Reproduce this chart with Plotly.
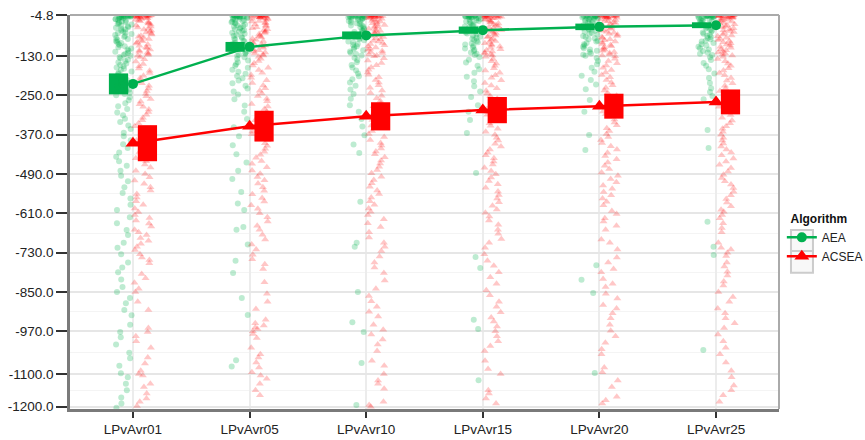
import plotly.graph_objects as go

categories = ["LPvAvr01", "LPvAvr05", "LPvAvr10", "LPvAvr15", "LPvAvr20", "LPvAvr25"]

ytick_vals = [-4.8, -130, -250, -370, -490, -610, -730, -850, -970, -1100, -1200]
ytick_text = ["-4.8", "-130.0", "-250.0", "-370.0", "-490.0", "-610.0", "-730.0",
              "-850.0", "-970.0", "-1100.0", "-1200.0"]

# summary (mean and half width of the interval box)
aea_mean = [-215, -102, -67, -51, -41, -36]
aea_half = [32, 15, 12, 11, 10, 9]
acsea_mean = [-396, -344, -314, -295, -283, -270]
acsea_half = [55, 47, 43, 40, 38, 38]

# individual runs
aea_01 = [
    -5, -5, -5, -6, -6, -6, -7, -7, -7, -8, -8, -9, -9, -10, -10, -11, -12, -13,
    -14, -15, -17, -18, -20, -22, -24, -26, -28, -30, -32, -34, -37, -39, -42, -44, -47, -49, -52, -55,
    -58, -60, -63, -66, -69, -72, -75, -78, -81, -84, -87, -90, -93, -97, -100, -103, -107, -110, -114,
    -117, -121, -124, -127, -129,
    -133, -137, -141, -145, -149, -153, -157, -161, -165, -169, -173, -177, -181, -185, -190, -194, -198,
    -203, -207, -212, -217, -222, -227, -232, -237, -242, -246, -250,
    -256, -265, -274, -283, -292, -302, -311, -321, -331, -342, -353, -364, -375, -387, -399, -411, -424,
    -437, -451, -465, -480, -495,
    -512, -530, -548, -565, -584, -600, -622, -640, -661, -676, -700, -715, -735, -760, -775, -790,
    -812, -835, -850, -868, -884, -905, -921, -950, -972, -988, -1010, -1035, -1052, -1075, -1098,
    -1110, -1130, -1150, -1172, -1190, -1203]
aea_05 = [
    -5, -5, -5, -6, -6, -6, -7, -7, -8, -8, -8, -9, -9, -10, -11, -11, -12, -13,
    -14, -16, -17, -19, -21, -23, -25, -27, -29, -31, -34, -36, -38, -41, -43, -46, -48, -51, -54, -56,
    -59, -62, -65, -68, -71, -74, -77, -80, -83, -86, -90, -93, -96, -100, -103, -107, -110, -113, -117,
    -120, -123, -126, -129,
    -134, -139, -144, -149, -155, -160, -166, -172, -178, -184, -191, -198, -205, -213, -221, -229, -238,
    -247,
    -262, -281, -300, -322, -347, -375, -402, -430, -455, -480, -505, -545,
    -580, -600, -652, -660, -705, -755, -792, -868, -920, -1058, -1077]
aea_10 = [
    -5, -5, -5, -6, -6, -7, -7, -7, -8, -8, -9, -9, -10, -10, -11, -12, -12, -13,
    -14, -16, -18, -19, -21, -23, -25, -28, -30, -32, -35, -37, -40, -42, -45, -48, -51, -54, -57, -60,
    -63, -66, -69, -72, -76, -79, -82, -86, -89, -93, -96, -100, -104, -108, -112, -116, -120, -124, -128,
    -135, -142, -149, -157, -165, -174, -183, -192, -201, -211, -221, -232, -246, -260,
    -280, -300, -322, -345, -372, -400, -426,
    -575, -700, -712, -850, -942, -972, -1067, -1195]
aea_15 = [
    -5, -5, -5, -6, -6, -6, -7, -7, -8, -8, -8, -9, -9, -10, -11, -11, -12, -13,
    -14, -15, -17, -19, -21, -23, -25, -27, -30, -32, -35, -37, -40, -43, -46, -49, -52, -55, -58, -61,
    -64, -67, -71, -74, -77, -81, -84, -88, -92, -95, -99, -103, -107, -111, -115, -119, -123, -127,
    -133, -141, -150, -160, -170, -181, -193, -207, -222, -238, -255,
    -280, -300, -325, -365, -487,
    -743, -777, -935, -963, -1119]
aea_20 = [
    -5, -5, -5, -6, -6, -7, -7, -7, -8, -8, -9, -9, -10, -10, -11, -12, -13, -14,
    -15, -16, -18, -20, -22, -24, -26, -28, -31, -33, -36, -38, -41, -44, -47, -50, -53, -56, -59, -62,
    -65, -69, -72, -76, -79, -83, -86, -90, -94, -98, -102, -106, -110, -114, -118, -122, -126, -129,
    -136, -145, -155, -166, -178, -190, -203, -217, -231,
    -264, -300, -371, -417,
    -768, -813, -853, -1097]
aea_25 = [
    -5, -5, -5, -6, -6, -6, -7, -7, -7, -8, -8, -9, -9, -10, -10, -11, -12, -14,
    -15, -17, -19, -21, -23, -25, -27, -29, -32, -34, -37, -40, -43, -46, -49, -52, -55, -58, -62, -65,
    -68, -72, -75, -79, -83, -86, -90, -94, -98, -102, -106, -110, -115, -119, -123, -127,
    -134, -142, -151, -160, -170, -183, -197, -212, -228, -240,
    -252, -262, -356, -411,
    -636, -712, -737, -1027]

acsea_01 = [
    -5, -5, -5, -6, -6, -7, -7, -7, -8, -8, -9, -9, -10, -10, -11, -12, -13, -14,
    -15, -17, -19, -21, -24, -26, -29, -31, -34, -37, -40, -43, -46, -49, -52, -55, -58, -61, -64, -68,
    -71, -74, -78, -81, -85, -88, -92, -95, -99, -103, -106, -110, -113, -117, -120, -123, -126, -129,
    -133, -140, -147, -154, -161, -168, -175, -182, -190, -197, -205, -213, -221, -229, -237, -245, -253,
    -261, -269, -277, -285, -293, -301, -309, -318, -326, -335, -344, -352, -361, -370, -379, -388, -397,
    -405, -414, -423, -432, -442, -451, -461, -470, -480, -490, -500, -510, -520, -530, -540, -551, -562,
    -573, -584, -595,
    -606, -615, -624, -632, -641, -650, -660, -668, -676, -685, -694, -703, -712, -722, -735, -745, -752,
    -762,
    -795, -808, -822, -840, -850, -880, -905, -960, -972, -985, -1000, -1020, -1050, -1068, -1090, -1100,
    -1105, -1130, -1140, -1160, -1175, -1185, -1198]
acsea_05 = [
    -5, -5, -5, -6, -6, -6, -7, -7, -8, -8, -9, -9, -10, -11, -11, -12, -13, -14,
    -15, -16, -18, -20, -23, -25, -28, -30, -33, -36, -39, -42, -45, -48, -51, -54, -57, -60, -63, -67,
    -70, -73, -77, -80, -84, -87, -91, -94, -98, -101, -105, -109, -112, -116, -119, -122, -125, -128,
    -132, -138, -145, -152, -159, -166, -173, -181, -188, -196, -204, -212, -220, -228, -236, -244, -252,
    -260, -268, -276, -284, -292, -300, -309, -317, -326, -334, -343, -351, -360, -369, -378, -387, -396,
    -404, -413, -422, -431, -440, -450, -459, -469, -479, -489, -499, -509, -519, -530, -541, -552, -563,
    -574, -585, -596,
    -610, -622, -635, -648, -660, -675, -690, -705, -720, -736, -750, -765, -780,
    -820, -855, -880, -902, -935, -945, -952, -958, -963, -970, -978, -990, -1020, -1040, -1050, -1065,
    -1080, -1095, -1105, -1115, -1130, -1150, -1165]
acsea_10 = [
    -5, -5, -5, -6, -6, -6, -7, -7, -7, -8, -8, -9, -9, -10, -10, -11, -12, -13,
    -14, -16, -18, -20, -22, -25, -27, -30, -32, -35, -38, -41, -44, -47, -50, -53, -56, -59, -62, -66,
    -69, -72, -76, -79, -83, -86, -90, -93, -97, -100, -104, -108, -111, -115, -118, -121, -125, -128,
    -131, -137, -144, -151, -158, -165, -172, -180, -187, -195, -203, -211, -219, -227, -235, -243, -251,
    -259, -267, -275, -283, -291, -299, -308, -316, -325, -333, -342, -350, -359, -368, -377, -386, -395,
    -403, -412, -421, -430, -439, -449, -458, -468, -478, -488, -498, -508, -518, -529, -540, -551, -562,
    -573, -584, -595,
    -605, -615, -628, -640, -652, -668, -684, -700, -712, -725, -742, -760, -775, -792,
    -815, -840, -862, -878, -895, -910, -925, -950, -965, -980, -995, -1010, -1030, -1060, -1075, -1100,
    -1120, -1130, -1145, -1185, -1195, -1200]
acsea_15 = [
    -5, -5, -5, -6, -6, -7, -7, -7, -8, -8, -9, -9, -10, -10, -11, -12, -13, -14,
    -15, -17, -19, -21, -23, -26, -28, -31, -33, -36, -39, -42, -45, -48, -51, -54, -57, -60, -63, -67,
    -70, -73, -77, -80, -84, -87, -91, -94, -98, -101, -105, -109, -112, -116, -119, -122, -125, -128,
    -132, -139, -146, -153, -160, -167, -174, -181, -189, -196, -204, -212, -220, -228, -236, -244, -252,
    -260, -268, -276, -284, -292, -301, -309, -318, -326, -335, -343, -352, -361, -370, -379, -388, -398,
    -406, -415, -424, -433, -442, -452, -461, -471, -481, -491, -501, -511, -521, -532, -543, -554, -565,
    -576, -587, -598,
    -608, -620, -632, -645, -660, -672, -688, -700, -715, -735, -755, -770, -790,
    -805, -825, -845, -860, -880, -895, -912, -928, -940, -955, -970, -985, -1000, -1015, -1030, -1060,
    -1085, -1100, -1150, -1160, -1175, -1190]
acsea_20 = [
    -5, -5, -5, -6, -6, -6, -7, -7, -8, -8, -8, -9, -9, -10, -11, -11, -12, -13,
    -14, -16, -18, -20, -22, -24, -27, -29, -32, -35, -38, -41, -44, -47, -50, -53, -56, -59, -62, -65,
    -69, -72, -75, -79, -82, -86, -89, -93, -96, -100, -103, -107, -111, -114, -118, -121, -125, -128,
    -131, -138, -145, -152, -159, -166, -173, -180, -188, -195, -203, -211, -219, -227, -235, -243, -251,
    -259, -267, -275, -283, -291, -299, -307, -316, -324, -333, -341, -350, -359, -368, -377, -386, -395,
    -405, -415, -425, -435, -445, -455, -465, -475, -485, -495, -505, -515, -525, -535, -545, -555, -565,
    -575, -585,
    -603, -612, -625, -635, -648, -660, -690, -700, -720, -745, -760, -780, -790,
    -810, -825, -835, -855, -870, -890, -900, -915, -930, -950, -968, -985, -1005, -1025, -1040, -1080,
    -1095, -1120, -1140, -1170, -1180, -1190]
acsea_25 = [
    -5, -5, -5, -6, -6, -7, -7, -7, -8, -8, -9, -9, -10, -10, -11, -12, -13, -14,
    -15, -17, -19, -21, -23, -25, -28, -30, -33, -36, -39, -42, -45, -48, -51, -54, -57, -60, -64, -67,
    -70, -74, -77, -81, -84, -88, -91, -95, -98, -102, -105, -109, -112, -116, -119, -122, -125, -128,
    -132, -139, -146, -153, -160, -167, -174, -182, -189, -197, -205, -213, -221, -229, -237, -245, -253,
    -261, -269, -277, -285, -293, -301, -310, -318, -327, -335, -344, -352, -361, -370, -379, -388, -397,
    -406, -415, -424, -433, -443, -452, -462, -472, -482, -492, -502, -512, -522, -533, -544, -555, -566,
    -577, -588, -599,
    -605, -615, -625, -640, -655, -668, -700, -715, -720, -730, -740, -760, -772, -788,
    -800, -818, -830, -850, -865, -880, -900, -915, -930, -945, -960, -980, -1000, -1020, -1040, -1065,
    -1090, -1110, -1135, -1150, -1165, -1185]

aea_runs = [aea_01, aea_05, aea_10, aea_15, aea_20, aea_25]
acsea_runs = [acsea_01, acsea_05, acsea_10, acsea_15, acsea_20, acsea_25]

GREEN = "#00b04f"
RED = "#ff0000"
FONT = "Liberation Sans, Arial, sans-serif"


def mix(v):
    # integer hash (murmur3 finaliser) used only for horizontal spread
    v &= 0xFFFFFFFF
    v ^= v >> 16
    v = (v * 0x85EBCA6B) & 0xFFFFFFFF
    v ^= v >> 13
    v = (v * 0xC2B2AE35) & 0xFFFFFFFF
    v ^= v >> 16
    return v / 4294967296.0


def jitter_x(ci, n, lo, hi, seed):
    return [ci + lo + mix(k * 0x9E3779B1 + ci * 7919 + seed * 104729) * (hi - lo)
            for k in range(n)]


fig = go.Figure()

# jittered clouds
ax, ay, bx, by = [], [], [], []
for ci in range(len(categories)):
    ax += jitter_x(ci, len(aea_runs[ci]), -0.155, -0.012, 1)
    ay += aea_runs[ci]
    bx += jitter_x(ci, len(acsea_runs[ci]), 0.012, 0.16, 2)
    by += acsea_runs[ci]

fig.add_trace(go.Scatter(x=ax, y=ay, mode="markers", showlegend=False, hoverinfo="skip",
                         marker=dict(symbol="circle", size=6, color="rgba(0,176,79,0.26)",
                                     line=dict(width=0))))
fig.add_trace(go.Scatter(x=bx, y=by, mode="markers", showlegend=False, hoverinfo="skip",
                         marker=dict(symbol="triangle-up", size=7, color="rgba(255,0,0,0.22)",
                                     line=dict(width=0))))

# interval boxes
idx = list(range(len(categories)))
fig.add_trace(go.Bar(x=[i - 0.124 for i in idx], y=[2 * h for h in aea_half],
                     base=[m - h for m, h in zip(aea_mean, aea_half)], width=0.165,
                     marker=dict(color=GREEN, line=dict(width=0)), showlegend=False,
                     hoverinfo="skip"))
fig.add_trace(go.Bar(x=[i + 0.124 for i in idx], y=[2 * h for h in acsea_half],
                     base=[m - h for m, h in zip(acsea_mean, acsea_half)], width=0.165,
                     marker=dict(color=RED, line=dict(width=0)), showlegend=False,
                     hoverinfo="skip"))

# mean lines
fig.add_trace(go.Scatter(x=idx, y=aea_mean, mode="lines+markers", name="AEA",
                         line=dict(color=GREEN, width=2.5),
                         marker=dict(symbol="circle", size=10, color=GREEN)))
fig.add_trace(go.Scatter(x=idx, y=acsea_mean, mode="lines+markers", name="ACSEA",
                         line=dict(color=RED, width=2.5),
                         marker=dict(symbol="triangle-up", size=13, color=RED)))

minor_vals = [(a + b) / 2 for a, b in zip(ytick_vals[:-1], ytick_vals[1:])]

# legend key boxes and panel top/right border
shapes = [
    dict(type="line", xref="paper", yref="paper", x0=0, x1=1, y0=1, y1=1,
         line=dict(color="#aaaaaa", width=2), layer="above"),
    dict(type="line", xref="paper", yref="paper", x0=1, x1=1, y0=0, y1=1,
         line=dict(color="#aaaaaa", width=2), layer="above"),
]
for y0, y1 in [(0.401, 0.454), (0.346, 0.401)]:
    shapes.append(dict(type="rect", xref="paper", yref="paper", x0=1.0169, x1=1.0479,
                       y0=y0, y1=y1, line=dict(color="#cccccc", width=2),
                       fillcolor="#f8f8f8", layer="above"))

fig.update_layout(
    width=865, height=440,
    margin=dict(l=70, r=86, t=15, b=31, autoexpand=False),
    paper_bgcolor="white", plot_bgcolor="white",
    barmode="overlay",
    font=dict(family=FONT, size=12, color="#333333"),
    shapes=shapes,
    legend=dict(title=dict(text="&nbsp;&nbsp;<b>Algorithm</b>", font=dict(size=12, color="#111111")),
                x=1.004, xanchor="left", y=0.512, yanchor="top",
                font=dict(size=12, color="#222222"), bgcolor="rgba(0,0,0,0)",
                tracegroupgap=0),
    xaxis=dict(range=[-0.54, 5.54], tickmode="array", tickvals=idx, ticktext=categories,
               ticks="outside", ticklen=6, tickwidth=1.5, tickcolor="#333333",
               showgrid=True, gridcolor="#ececec", gridwidth=1.5, automargin=False,
               showline=True, linecolor="#7a7a7a", linewidth=2.5, mirror=False,
               zeroline=False, tickfont=dict(size=13.5, color="#222222")),
    yaxis=dict(range=[-1207, -4.8], tickmode="array", tickvals=ytick_vals, ticktext=ytick_text,
               ticks="outside", ticklen=11, tickwidth=1.5, tickcolor="#333333",
               showgrid=True, gridcolor="#e6e6e6", gridwidth=1.5, automargin=False,
               showline=True, linecolor="#7a7a7a", linewidth=2.5, mirror=False,
               zeroline=False, tickfont=dict(size=13.5, color="#222222"),
               minor=dict(tickvals=minor_vals, showgrid=True, gridcolor="#f4f4f4", gridwidth=1,
                          ticks="")),
)

fig.write_html("out.html", config={"displayModeBar": False},
               post_script="document.body.style.margin='0px';document.body.style.padding='0px';"
                           "document.documentElement.style.overflow='hidden';")
